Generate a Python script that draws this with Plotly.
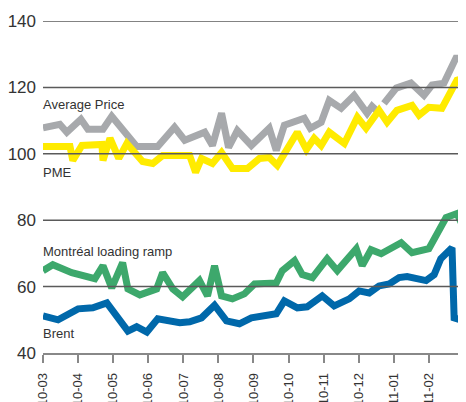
import plotly.graph_objects as go

tick_labels = ["2010-03", "2010-04", "2010-05", "2010-06", "2010-07", "2010-08", "2010-09",
               "2010-10", "2010-11", "2010-12", "2011-01", "2011-02", "2011-03"]

# x positions expressed in months since 2010-03
avg_x = [0, 0.48, 0.68, 1.08, 1.28, 1.71, 1.96, 2.39, 2.67, 3.27, 3.75, 4.04, 4.61, 4.83, 5.09,
         5.29, 5.54, 5.94, 6.45, 6.65, 6.88, 7.45, 7.62, 7.93, 8.16, 8.50, 8.87, 9.24, 9.38, 9.50,
         None, 9.72, 10.07, 10.49, 10.86, 11.09, 11.43, 11.77, 12.0]
avg_y = [107.8, 108.9, 106.5, 110.4, 107.4, 107.4, 111.3, 106.2, 102.2, 102.2, 108.0, 104.1, 106.5,
         102.5, 112.2, 101.9, 107.0, 102.5, 107.7, 101.0, 108.6, 110.7, 107.7, 109.5, 116.1, 113.7,
         117.6, 112.2, 114.3, 113.1, None, 115.2, 119.8, 121.3, 117.6, 120.7, 121.3, 128.8, 128.8]

pme_x = [0, 0.77, 0.85, 1.11, 1.68, 1.71, 1.91, 2.16, 2.39, 2.84, 3.13, 3.41, 4.18, 4.35, 4.52,
         4.83, 5.09, 5.40, 5.83, 6.17, 6.45, 6.68, 7.25, 7.51, 7.73, 7.93, 8.16, 8.59, 8.96, 9.21,
         9.58, 9.81, 10.09, 10.52, 10.72, 11.00, 11.37, 11.80, 12.0]
pme_y = [102.2, 102.2, 98.0, 102.5, 102.8, 98.0, 104.7, 98.6, 103.1, 97.7, 97.1, 99.5, 99.5, 94.4,
         98.6, 97.1, 100.4, 95.6, 95.6, 98.6, 98.9, 96.5, 106.5, 101.3, 104.7, 102.5, 106.5, 103.1,
         111.0, 107.7, 113.1, 109.5, 113.1, 114.6, 111.6, 114.0, 113.7, 122.2, 122.8]

mtl_x = [0, 0.28, 0.82, 1.48, 1.71, 1.96, 2.27, 2.42, 2.76, 3.24, 3.41, 3.70, 3.98, 4.46, 4.69,
         4.89, 5.09, 5.40, 5.74, 6.03, 6.65, 6.82, 7.17, 7.39, 7.68, 8.10, 8.39, 8.93, 9.10, 9.35,
         9.64, 10.21, 10.52, 11.00, 11.49, 11.80, 12.0]
mtl_y = [64.8, 66.6, 64.2, 62.4, 66.3, 59.6, 67.2, 59.3, 57.5, 59.3, 64.2, 59.3, 56.9, 61.8, 57.2,
         66.3, 57.2, 56.3, 57.8, 60.8, 61.1, 64.8, 67.8, 63.6, 62.7, 68.4, 64.8, 71.4, 66.3, 71.1,
         69.9, 73.2, 70.2, 71.4, 80.8, 82.0, 77.5]

brent_x = [0, 0.43, 1.00, 1.42, 1.82, 2.13, 2.42, 2.67, 2.96, 3.27, 3.90, 4.18, 4.52, 4.89, 5.23,
           5.60, 5.94, 6.65, 6.88, 7.25, 7.53, 7.96, 8.16, 8.30, 8.73, 9.01, 9.30, 9.58, 9.87, 10.15,
           10.38, 10.66, 10.92, 11.15, 11.34, 11.66, 11.72, 12.0]
brent_y = [51.2, 50.0, 53.3, 53.6, 55.1, 50.6, 46.6, 47.9, 46.3, 50.3, 49.1, 49.4, 50.6, 54.4, 49.7,
           48.8, 50.6, 51.8, 55.7, 53.6, 53.9, 57.2, 55.1, 54.2, 56.3, 58.7, 58.1, 60.2, 60.8, 62.7,
           63.0, 62.1, 61.8, 63.6, 68.4, 71.7, 50.6, 49.7]

series = [
    ("Average Price", avg_x, avg_y, "#A7A9AC"),
    ("PME", pme_x, pme_y, "#FFEB00"),
    ("Montréal loading ramp", mtl_x, mtl_y, "#3DA86C"),
    ("Brent", brent_x, brent_y, "#0068AA"),
]
label_y = [114.9, 94.4, 70.5, 46.0]
grid_vals = [60, 80, 100, 120, 140]

FONT = "Liberation Sans, Arial, sans-serif"
fig = go.Figure()
for (name, xs, ys, col) in series:
    fig.add_trace(go.Scatter(x=xs, y=ys, mode="lines", name=name,
                             line=dict(color=col, width=7), connectgaps=False,
                             hoverinfo="skip"))

for (name, _, _, _), ly in zip(series, label_y):
    fig.add_annotation(x=0, y=ly, xref="x", yref="y", text=name, showarrow=False,
                       xanchor="left", yanchor="middle", xshift=-2,
                       font=dict(family=FONT, size=13, color="#333333"))

for g in grid_vals:
    fig.add_shape(type="line", xref="paper", yref="y", x0=0, x1=1, y0=g, y1=g,
                  line=dict(color="#5a5a5a", width=1.5), layer="above")

fig.update_layout(
    width=458, height=394,
    margin=dict(l=35, r=1, t=13, b=49),
    paper_bgcolor="white", plot_bgcolor="white",
    showlegend=False,
    font=dict(family=FONT, color="#333333"),
)
fig.update_xaxes(
    range=[0, 12.03], tickvals=list(range(len(tick_labels))), ticktext=tick_labels,
    tickangle=-90, ticks="outside", ticklen=8, tickwidth=1.5, tickcolor="#888888",
    showline=True, linecolor="#888888", linewidth=1.5, showgrid=False, zeroline=False,
    tickfont=dict(family=FONT, size=13, color="#333333"), ticklabelstandoff=5,
    ticklabeloverflow="allow", automargin=False,
)
fig.update_yaxes(
    range=[40, 140], tickvals=[40] + grid_vals, showgrid=False, zeroline=False,
    showline=False, ticks="", tickfont=dict(family=FONT, size=17, color="#333333"),
    ticklabelstandoff=6, automargin=False,
)
fig.write_html("out.html")
